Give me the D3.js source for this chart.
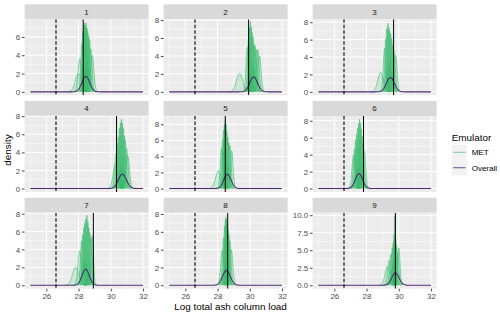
<!DOCTYPE html>
<html>
<head>
<meta charset="utf-8">
<script src="https://cdn.jsdelivr.net/npm/d3@7"></script>
<style>
  body { margin: 0; background: #fff; }
  svg { display: block; font-family: "Liberation Sans", Arial, Helvetica, sans-serif; }
</style>
</head>
<body>
<svg id="chart" width="500" height="315"></svg>
<script>
// facet labels and axis ticks
const panels = ['1', '2', '3', '4', '5', '6', '7', '8', '9'];
const xRange = [25, 32];
const xTicks = [26, 28, 30, 32];
const yTicks = [
  [0, 2, 4, 6], [0, 2, 4, 6, 8], [0, 2, 4, 6, 8],
  [0, 2, 4, 6, 8], [0, 2, 4, 6, 8], [0, 2, 4, 6, 8],
  [0, 2, 4, 6, 8], [0, 2, 4, 6, 8], [0, 2.5, 5, 7.5, 10]
];
const yTickLabels = [
  ['0', '2', '4', '6'], ['0', '2', '4', '6', '8'], ['0', '2', '4', '6', '8'],
  ['0', '2', '4', '6', '8'], ['0', '2', '4', '6', '8'], ['0', '2', '4', '6', '8'],
  ['0', '2', '4', '6', '8'], ['0', '2', '4', '6', '8'], ['0.0', '2.5', '5.0', '7.5', '10.0']
];
// highest density in each facet (sets the free y scale)
const yMax = [7.55, 7.7, 7.94, 7.64, 8.6, 8.15, 7.72, 7.76, 9.87];

// reference lines
const dashedAt = 26.6;
const solidAt = [28.29, 29.93, 29.68, 30.36, 28.48, 27.81, 28.92, 28.63, 29.79];

// Overall emulator: centre and spread of its density
const overallCentre = [28.45, 30.24, 29.48, 30.72, 28.61, 27.53, 28.44, 28.55, 29.79];
const overallSpread = [0.235, 0.239, 0.242, 0.252, 0.225, 0.228, 0.224, 0.239, 0.227];

// MET emulator members: centre and spread of each member density
const metCentre = [
  [28.08, 28.0, 28.22, 28.28, 28.33, 28.38, 28.43, 28.47, 28.52, 28.57, 28.62, 28.68, 28.75, 28.85, 28.55],
  [29.37, 29.85, 29.93, 29.98, 30.04, 30.09, 30.14, 30.2, 30.27, 30.33, 30.4, 30.5, 30.6, 30.2],
  [28.88, 29.12, 29.2, 29.26, 29.33, 29.39, 29.44, 29.5, 29.56, 29.62, 29.7, 29.8, 29.45],
  [30.35, 30.42, 30.48, 30.54, 30.6, 30.66, 30.72, 30.78, 30.84, 30.9, 30.98, 31.05, 30.7, 30.3],
  [28.06, 28.25, 28.32, 28.38, 28.43, 28.48, 28.53, 28.58, 28.64, 28.7, 28.77, 28.88, 28.55],
  [27.2, 27.27, 27.33, 27.39, 27.45, 27.51, 27.57, 27.62, 27.67, 27.72, 27.78, 27.86, 27.5],
  [27.82, 28.07, 28.2, 28.27, 28.33, 28.39, 28.45, 28.52, 28.58, 28.64, 28.7, 28.78, 28.86, 28.4],
  [28.3, 28.38, 28.44, 28.49, 28.52, 28.56, 28.6, 28.65, 28.7, 28.76, 28.85, 28.55],
  [29.3, 29.42, 29.52, 29.6, 29.66, 29.71, 29.76, 29.8, 29.86, 30.0, 29.92, 29.7]
];
const metSpread = [
  [0.11, 0.2, 0.075, 0.06, 0.055, 0.053, 0.056, 0.053, 0.057, 0.06, 0.065, 0.07, 0.085, 0.1, 0.15],
  [0.195, 0.08, 0.065, 0.056, 0.051, 0.055, 0.06, 0.065, 0.075, 0.078, 0.085, 0.085, 0.1, 0.16],
  [0.18, 0.08, 0.065, 0.055, 0.0505, 0.054, 0.057, 0.06, 0.065, 0.075, 0.085, 0.095, 0.15],
  [0.1, 0.08, 0.07, 0.06, 0.055, 0.052, 0.055, 0.06, 0.068, 0.075, 0.09, 0.11, 0.17, 0.15],
  [0.18, 0.08, 0.065, 0.055, 0.05, 0.0464, 0.05, 0.056, 0.062, 0.07, 0.075, 0.085, 0.15],
  [0.1, 0.085, 0.07, 0.062, 0.056, 0.052, 0.0487, 0.052, 0.057, 0.065, 0.075, 0.09, 0.16],
  [0.2, 0.104, 0.08, 0.07, 0.062, 0.057, 0.054, 0.051, 0.056, 0.062, 0.068, 0.075, 0.072, 0.15],
  [0.1, 0.075, 0.06, 0.054, 0.052, 0.054, 0.058, 0.064, 0.07, 0.08, 0.1, 0.14],
  [0.15, 0.11, 0.09, 0.075, 0.065, 0.055, 0.0403, 0.06, 0.07, 0.075, 0.085, 0.14]
];

const legendLabels = ['MET', 'Overall'];
const metColor = '#33b868';
const overallColor = '#4c2a6c';

const colLeft = [24.6, 163.6, 312.6];
const rowTop = [4.3, 101, 197.7];
const panelW = 124, panelH = 76, stripH = 15;
const font = '"Liberation Sans", Arial, Helvetica, sans-serif';

const svg = d3.select('#chart');

// gaussian kernel density for a centre / spread pair
function density(c, s, lo, hi, n) {
  const pts = [];
  for (let k = 0; k <= n; k++) {
    const v = lo + (hi - lo) * k / n;
    const z = (v - c) / s;
    pts.push([v, Math.exp(-0.5 * z * z) / (s * Math.sqrt(2 * Math.PI))]);
  }
  return pts;
}

function minorsOf(ticks, domain) {
  const step = ticks[1] - ticks[0];
  const m = [ticks[0] - step / 2].concat(ticks.map(t => t + step / 2));
  return m.filter(v => v > domain[0] && v < domain[1]);
}

const xPad = (xRange[1] - xRange[0]) * 0.05;
const x = d3.scaleLinear()
  .domain([xRange[0] - xPad, xRange[1] + xPad])
  .range([0, panelW]);

panels.forEach(function (name, i) {
  const col = i % 3, row = Math.floor(i / 3);
  const g = svg.append('g')
    .attr('transform', 'translate(' + colLeft[col] + ',' + rowTop[row] + ')');

  // strip
  g.append('rect').attr('width', panelW).attr('height', stripH).attr('fill', '#d9d9d9');
  g.append('text')
    .attr('x', panelW / 2).attr('y', stripH / 2).attr('dy', '0.35em')
    .attr('text-anchor', 'middle').attr('font-size', 8).attr('fill', '#1a1a1a')
    .text(name);

  const p = g.append('g').attr('transform', 'translate(0,' + stripH + ')');
  p.append('rect').attr('width', panelW).attr('height', panelH).attr('fill', '#ebebeb');

  const y = d3.scaleLinear()
    .domain([-0.05 * yMax[i], 1.05 * yMax[i]])
    .range([panelH, 0]);

  // grid
  const grid = p.append('g');
  minorsOf(xTicks, x.domain()).forEach(function (v) {
    grid.append('line').attr('x1', x(v)).attr('x2', x(v)).attr('y1', 0).attr('y2', panelH)
      .attr('stroke', '#fff').attr('stroke-width', 0.5);
  });
  minorsOf(yTicks[i], y.domain()).forEach(function (v) {
    grid.append('line').attr('y1', y(v)).attr('y2', y(v)).attr('x1', 0).attr('x2', panelW)
      .attr('stroke', '#fff').attr('stroke-width', 0.5);
  });
  xTicks.forEach(function (v) {
    grid.append('line').attr('x1', x(v)).attr('x2', x(v)).attr('y1', 0).attr('y2', panelH)
      .attr('stroke', '#fff').attr('stroke-width', 1);
  });
  yTicks[i].forEach(function (v) {
    grid.append('line').attr('y1', y(v)).attr('y2', y(v)).attr('x1', 0).attr('x2', panelW)
      .attr('stroke', '#fff').attr('stroke-width', 1);
  });

  // clip
  p.append('clipPath').attr('id', 'clip' + i)
    .append('rect').attr('width', panelW).attr('height', panelH);
  const plot = p.append('g').attr('clip-path', 'url(#clip' + i + ')');

  const line = d3.line().x(d => x(d[0])).y(d => y(d[1]));
  const area = d3.area().x(d => x(d[0])).y0(y(0)).y1(d => y(d[1]));

  // MET members
  metCentre[i].forEach(function (c, j) {
    const s = metSpread[i][j];
    const pts = density(c, s, c - 3.5 * s, c + 3.5 * s, 60);
    plot.append('path').attr('d', area(pts))
      .attr('fill', metColor).attr('fill-opacity', 0.16);
    plot.append('path').attr('d', line(pts))
      .attr('fill', 'none').attr('stroke', metColor)
      .attr('stroke-opacity', 0.65).attr('stroke-width', 0.9);
  });

  // Overall
  const ov = density(overallCentre[i], overallSpread[i], xRange[0], xRange[1], 350);
  plot.append('path').attr('d', line(ov))
    .attr('fill', 'none').attr('stroke', overallColor).attr('stroke-width', 1.1);

  // vertical lines
  plot.append('line').attr('x1', x(dashedAt)).attr('x2', x(dashedAt))
    .attr('y1', 0).attr('y2', panelH)
    .attr('stroke', '#000').attr('stroke-width', 1.1).attr('stroke-dasharray', '3.5,2');
  plot.append('line').attr('x1', x(solidAt[i])).attr('x2', x(solidAt[i]))
    .attr('y1', 0).attr('y2', panelH)
    .attr('stroke', '#000').attr('stroke-width', 1);

  // y axis
  const ya = p.append('g')
    .call(d3.axisLeft(y).tickValues(yTicks[i])
      .tickFormat((d, j) => yTickLabels[i][j]).tickSize(2.7).tickPadding(1.6));
  ya.select('.domain').remove();
  ya.attr('font-family', font).attr('font-size', 8);
  ya.selectAll('line').attr('stroke', '#333').attr('stroke-width', 0.9);
  ya.selectAll('text').attr('fill', '#4d4d4d');

  // x axis on the bottom row
  if (row === 2) {
    const xa = p.append('g').attr('transform', 'translate(0,' + panelH + ')')
      .call(d3.axisBottom(x).tickValues(xTicks).tickSize(2.7).tickPadding(1.6));
    xa.select('.domain').remove();
    xa.attr('font-family', font).attr('font-size', 8);
    xa.selectAll('line').attr('stroke', '#333').attr('stroke-width', 0.9);
    xa.selectAll('text').attr('fill', '#4d4d4d');
  }
});

// axis titles
svg.append('text')
  .attr('x', (colLeft[0] + colLeft[2] + panelW) / 2).attr('y', 309.5)
  .attr('text-anchor', 'middle').attr('font-size', 9.9).attr('fill', '#000')
  .text('Log total ash column load');
svg.append('text')
  .attr('transform', 'translate(7.3,150) rotate(-90)')
  .attr('dy', '0.35em')
  .attr('text-anchor', 'middle').attr('font-size', 9.9).attr('fill', '#000')
  .text('density');

// legend
const lg = svg.append('g').attr('transform', 'translate(451.7,130)');
lg.append('text').attr('x', 0).attr('y', 10.8).attr('font-size', 9.9).attr('fill', '#000')
  .text('Emulator');
const keyS = 15.4;
legendLabels.forEach(function (lab, k) {
  const ky = 14.6 + k * keyS;
  lg.append('rect').attr('x', 0).attr('y', ky).attr('width', keyS).attr('height', keyS)
    .attr('fill', '#f2f2f2');
  const ln = lg.append('line').attr('x1', 1.5).attr('x2', keyS - 1.5)
    .attr('y1', ky + keyS / 2).attr('y2', ky + keyS / 2);
  if (k === 0) {
    ln.attr('stroke', metColor).attr('stroke-opacity', 0.6).attr('stroke-width', 1.1);
  } else {
    ln.attr('stroke', '#7b5a9b').attr('stroke-width', 1.1);
  }
  lg.append('text').attr('x', 20).attr('y', ky + keyS / 2).attr('dy', '0.35em')
    .attr('font-size', 8).attr('fill', '#000').text(lab);
});
</script>
</body>
</html>
